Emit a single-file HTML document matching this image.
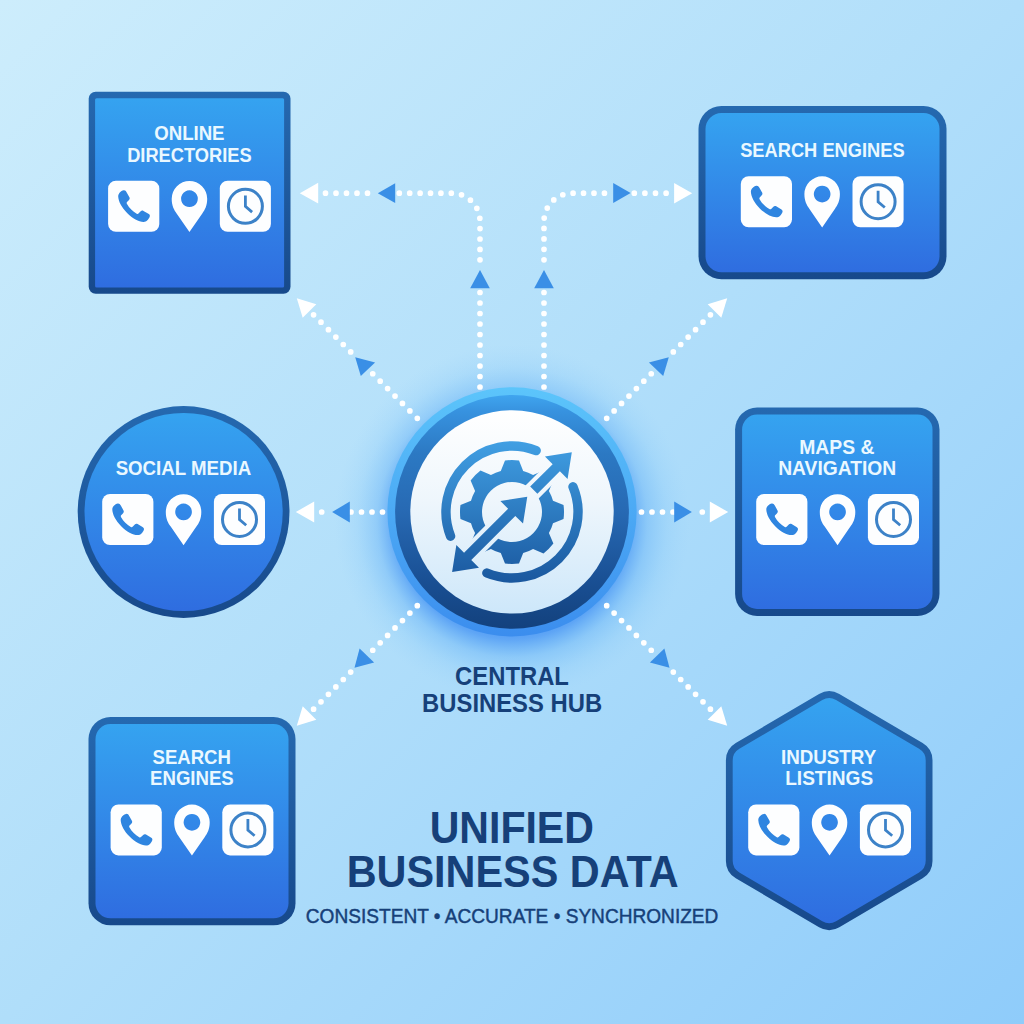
<!DOCTYPE html>
<html lang="en"><head><meta charset="utf-8"><title>Unified Business Data</title>
<style>html,body{margin:0;padding:0;background:#aedcfb;}body{width:1024px;height:1024px;overflow:hidden;font-family:"Liberation Sans", sans-serif;}svg{display:block;font-family:"Liberation Sans", sans-serif;}</style>
</head><body>
<svg width="1024" height="1024" viewBox="0 0 1024 1024">
<defs>
<linearGradient id="bg" x1="0" y1="0" x2="1" y2="1"><stop offset="0" stop-color="#cdedfc"/><stop offset="0.5" stop-color="#b0defa"/><stop offset="1" stop-color="#8fccfa"/></linearGradient>
<linearGradient id="nf" x1="0" y1="0" x2="0" y2="1"><stop offset="0" stop-color="#35a3f0"/><stop offset="1" stop-color="#2f6de0"/></linearGradient>
<linearGradient id="nb" x1="0" y1="0" x2="0" y2="1"><stop offset="0" stop-color="#2569b0"/><stop offset="1" stop-color="#17498b"/></linearGradient>
<radialGradient id="glow" cx="512" cy="522" r="178" gradientUnits="userSpaceOnUse"><stop offset="0.62" stop-color="#4a95f4" stop-opacity="0.9"/><stop offset="0.66" stop-color="#4a97f4" stop-opacity="0.78"/><stop offset="0.76" stop-color="#55a8f6" stop-opacity="0.36"/><stop offset="0.87" stop-color="#62b4f8" stop-opacity="0.13"/><stop offset="1" stop-color="#8cc8fa" stop-opacity="0"/></radialGradient>
<linearGradient id="ringL" x1="0" y1="387" x2="0" y2="637" gradientUnits="userSpaceOnUse"><stop offset="0" stop-color="#5cc5fb"/><stop offset="1" stop-color="#3b8dee"/></linearGradient>
<linearGradient id="ringD" x1="0" y1="395" x2="0" y2="629" gradientUnits="userSpaceOnUse"><stop offset="0" stop-color="#3fa5ef"/><stop offset="0.07" stop-color="#3792df"/><stop offset="0.25" stop-color="#2c79c3"/><stop offset="0.5" stop-color="#2769b3"/><stop offset="0.8" stop-color="#194f93"/><stop offset="1" stop-color="#13417d"/></linearGradient>
<linearGradient id="disc" x1="0" y1="410" x2="0" y2="614" gradientUnits="userSpaceOnUse"><stop offset="0" stop-color="#ffffff"/><stop offset="0.45" stop-color="#eef6fc"/><stop offset="1" stop-color="#cde7fa"/></linearGradient>
<linearGradient id="ico" x1="0" y1="440" x2="0" y2="585" gradientUnits="userSpaceOnUse"><stop offset="0" stop-color="#41a0e4"/><stop offset="1" stop-color="#19569d"/></linearGradient>
<g id="icons">
<rect x="0" y="0" width="51.2" height="51" rx="7.8" fill="#fdfeff"/>
<path fill="#2f85e0" d="M15.6 9.5 C17 9.3 17.8 10.2 18.6 11.6 L21.3 16.4 C21.9 17.6 21.6 18.4 20.7 19.4 L18.9 21.2 C18.4 21.8 18.5 22.4 18.9 23.2 C21.2 27.2 24.6 30.6 28.6 32.9 C29.3 33.3 29.9 33.2 30.4 32.7 L32.6 30.5 C33.4 29.7 34.3 29.6 35.4 30.1 L40.3 33 C41.6 33.8 42.1 34.7 41.6 36 C40.6 38.6 38.4 41.2 35.4 41.1 C30.6 40.9 24.4 37.6 19 32.2 C13.6 26.8 10.3 20.6 10.1 15.8 C10 12.8 12.6 10.2 15.6 9.5 Z"/>
<path fill="#fdfeff" fill-rule="evenodd" d="M81.35 51.2 L68.5 32.6 C66 29 63.6 25 63.6 17.9 A17.75 17.75 0 0 1 99.1 17.9 C99.1 25 96.7 29 94.2 32.6 Z M81.35 9.55 a8.35 8.35 0 1 0 0.001 0 Z"/>
<rect x="111.7" y="0" width="51.1" height="51" rx="7.8" fill="#fdfeff"/>
<circle cx="137.3" cy="25.5" r="17" fill="none" stroke="#3c82c8" stroke-width="3"/>
<path d="M137.3 14.6 V25.6 L144 31.3" fill="none" stroke="#3c82c8" stroke-width="2.8" stroke-linecap="butt" stroke-linejoin="miter"/>
</g>
<mask id="gm" maskUnits="userSpaceOnUse" x="400" y="400" width="224" height="224"><rect x="400" y="400" width="224" height="224" fill="#fff"/><polygon points="452.11,571.89 456.35,545.02 464.06,552.73 508.11,508.68 500.4,500.97 527.27,496.73 523.03,523.6 515.32,515.89 471.27,559.94 478.98,567.65" fill="#000" stroke="#000" stroke-width="8.2" stroke-linejoin="miter"/><polygon points="530.17,486.61 552.66,464.13 544.95,456.42 571.82,452.18 567.58,479.05 559.87,471.34 537.39,493.83" fill="#000" stroke="#000" stroke-width="8.2" stroke-linejoin="miter"/></mask>
</defs>
<rect width="1024" height="1024" fill="url(#bg)"/>
<circle cx="512" cy="522" r="178" fill="url(#glow)"/>
<g fill="none" stroke="#ffffff" stroke-width="5.7" stroke-linecap="round" stroke-dasharray="0 10.5">
<path d="M480 387 V292"/>
<path stroke-dasharray="0 10.4" d="M480 259.8 V221 A28 28 0 0 0 452 193.2 H399"/>
<path d="M367.5 193.2 H325"/>
<path d="M382.5 512 H350.5"/>
<path d="M321.7 512 h0.01"/>
<path d="M417.3 418.3 L372.4 373.4"/>
<path d="M350.7 351.9 L313.2 314.4"/>
<path d="M417.3 605.7 L372.4 650.6"/>
<path d="M350.7 672.1 L313.2 709.6"/>
<path d="M544 387 V292"/>
<path stroke-dasharray="0 10.45" d="M544 259.8 V221 A28 28 0 0 1 572 193.2 H605"/>
<path stroke-dasharray="0 10.6" d="M634.3 193.2 H666.5"/>
<path d="M641.5 512 H673.5"/>
<path d="M702.3 512 h0.01"/>
<path d="M606.7 418.3 L651.6 373.4"/>
<path d="M673.3 351.9 L710.8 314.4"/>
<path d="M606.7 605.7 L651.6 650.6"/>
<path d="M673.3 672.1 L710.8 709.6"/>
</g>
<g fill="#ffffff">
<polygon points="299.8,193.2 318.2,182.8 318.2,203.6"/>
<polygon points="692.2,193.2 674.1,183 674.1,203.5"/>
<polygon points="295.8,512 314.2,501.6 314.2,522.4"/>
<polygon points="728.2,512 709.8,501.6 709.8,522.4"/>
<polygon points="296.8,298.2 316.3,304.3 302.7,317.7"/>
<polygon points="727.2,298.2 707.7,304.3 721.3,317.7"/>
<polygon points="296.8,725.8 316.3,719.7 302.7,706.3"/>
<polygon points="727.2,725.8 707.7,719.7 721.3,706.3"/>
</g>
<g fill="#3a8fe6">
<polygon points="377.8,193.2 395.2,183.3 395.2,203"/>
<polygon points="630.6,193 613.2,183 613.2,202.9"/>
<polygon points="480,270.1 470.2,288.3 489.8,288.3"/>
<polygon points="544,270.1 534.2,288.3 553.8,288.3"/>
<polygon points="332.1,512 349.8,501.6 349.8,522.4"/>
<polygon points="691.9,512 674.2,501.6 674.2,522.4"/>
<polygon points="355.2,357.2 375.1,362.4 360.8,376.1"/>
<polygon points="668.8,357.2 648.9,362.4 663.2,376.1"/>
<polygon points="354.5,667.8 374.1,662.4 359.6,648.6"/>
<polygon points="669.5,667.8 649.9,662.4 664.4,648.6"/>
</g>
<rect x="88.7" y="91.8" width="201.8" height="202" rx="7" fill="url(#nb)"/>
<rect x="95.1" y="98.2" width="189" height="189.2" rx="1.5" fill="url(#nf)"/>
<text x="189.4" y="139.7" font-size="19.4" font-weight="bold" fill="#eaf8ff" text-anchor="middle" textLength="70.3" lengthAdjust="spacingAndGlyphs">ONLINE</text>
<text x="189.4" y="161.7" font-size="19.4" font-weight="bold" fill="#eaf8ff" text-anchor="middle" textLength="124.5" lengthAdjust="spacingAndGlyphs">DIRECTORIES</text>
<use href="#icons" x="108.1" y="180.8"/>
<rect x="698.5" y="106.1" width="248" height="173.2" rx="23" fill="url(#nb)"/>
<rect x="705.5" y="113.1" width="234" height="159.2" rx="16" fill="url(#nf)"/>
<text x="822.4" y="156.9" font-size="19.4" font-weight="bold" fill="#eaf8ff" text-anchor="middle" textLength="164.4" lengthAdjust="spacingAndGlyphs">SEARCH ENGINES</text>
<use href="#icons" x="740.8" y="176.2"/>
<rect x="735.1" y="407.6" width="204.4" height="208.4" rx="22" fill="url(#nb)"/>
<rect x="742.1" y="414.6" width="190.4" height="194.4" rx="15" fill="url(#nf)"/>
<text x="836.8" y="453.5" font-size="19.4" font-weight="bold" fill="#eaf8ff" text-anchor="middle" textLength="75.2" lengthAdjust="spacingAndGlyphs">MAPS &amp;</text>
<text x="837.2" y="475.1" font-size="19.4" font-weight="bold" fill="#eaf8ff" text-anchor="middle" textLength="118" lengthAdjust="spacingAndGlyphs">NAVIGATION</text>
<use href="#icons" x="756.2" y="494"/>
<circle cx="183.6" cy="512" r="105.9" fill="url(#nb)"/>
<circle cx="183.6" cy="512" r="99.1" fill="url(#nf)"/>
<text x="183.4" y="475.1" font-size="19.4" font-weight="bold" fill="#eaf8ff" text-anchor="middle" textLength="135.5" lengthAdjust="spacingAndGlyphs">SOCIAL MEDIA</text>
<use href="#icons" x="102.2" y="494"/>
<rect x="88.5" y="717.1" width="207" height="208.2" rx="22" fill="url(#nb)"/>
<rect x="95.5" y="724.1" width="193" height="194.2" rx="15" fill="url(#nf)"/>
<text x="191.7" y="763.5" font-size="19.4" font-weight="bold" fill="#eaf8ff" text-anchor="middle" textLength="78.4" lengthAdjust="spacingAndGlyphs">SEARCH</text>
<text x="191.9" y="785.1" font-size="19.4" font-weight="bold" fill="#eaf8ff" text-anchor="middle" textLength="83.6" lengthAdjust="spacingAndGlyphs">ENGINES</text>
<use href="#icons" x="110.6" y="804.4"/>
<path d="M819.06 693.97A20 20 0 0 1 839.34 693.97L922.64 743A20 20 0 0 1 932.5 760.24L932.5 860.96A20 20 0 0 1 922.64 878.2L839.34 927.23A20 20 0 0 1 819.06 927.23L735.76 878.2A20 20 0 0 1 725.9 860.96L725.9 760.24A20 20 0 0 1 735.76 743Z" fill="url(#nb)"/>
<path d="M822.35 699.93A13.5 13.5 0 0 1 836.05 699.93L919.05 748.78A13.5 13.5 0 0 1 925.7 760.42L925.7 860.78A13.5 13.5 0 0 1 919.05 872.42L836.05 921.27A13.5 13.5 0 0 1 822.35 921.27L739.35 872.42A13.5 13.5 0 0 1 732.7 860.78L732.7 760.42A13.5 13.5 0 0 1 739.35 748.78Z" fill="url(#nf)"/>
<text x="828.6" y="763.9" font-size="19.4" font-weight="bold" fill="#eaf8ff" text-anchor="middle" textLength="95.2" lengthAdjust="spacingAndGlyphs">INDUSTRY</text>
<text x="829.2" y="785.1" font-size="19.4" font-weight="bold" fill="#eaf8ff" text-anchor="middle" textLength="88" lengthAdjust="spacingAndGlyphs">LISTINGS</text>
<use href="#icons" x="748.2" y="804.4"/>
<circle cx="512" cy="511.9" r="124.6" fill="url(#ringL)"/>
<circle cx="512" cy="511.9" r="116.9" fill="url(#ringD)"/>
<circle cx="512" cy="511.9" r="101.7" fill="url(#disc)"/>
<g fill="url(#ico)">
<path mask="url(#gm)" fill-rule="evenodd" d="M500.8 471L505 460.47A52 52 0 0 1 519 460.47L523.2 471A42.5 42.5 0 0 1 533.07 475.09L543.49 470.62A52 52 0 0 1 553.38 480.51L548.91 490.93A42.5 42.5 0 0 1 553 500.8L563.53 505A52 52 0 0 1 563.53 519L553 523.2A42.5 42.5 0 0 1 548.91 533.07L553.38 543.49A52 52 0 0 1 543.49 553.38L533.07 548.91A42.5 42.5 0 0 1 523.2 553L519 563.53A52 52 0 0 1 505 563.53L500.8 553A42.5 42.5 0 0 1 490.93 548.91L480.51 553.38A52 52 0 0 1 470.62 543.49L475.09 533.07A42.5 42.5 0 0 1 471 523.2L460.47 519A52 52 0 0 1 460.47 505L471 500.8A42.5 42.5 0 0 1 475.09 490.93L470.62 480.51A52 52 0 0 1 480.51 470.62L490.93 475.09A42.5 42.5 0 0 1 500.8 471Z M512 482 a30 30 0 1 0 0.001 0 Z"/>
<polygon points="452.11,571.89 456.35,545.02 464.06,552.73 508.11,508.68 500.4,500.97 527.27,496.73 523.03,523.6 515.32,515.89 471.27,559.94 478.98,567.65"/>
<polygon points="530.17,486.61 552.66,464.13 544.95,456.42 571.82,452.18 567.58,479.05 559.87,471.34 537.39,493.83"/>
</g>
<g fill="none" stroke="url(#ico)" stroke-width="9.4" stroke-linecap="round">
<path d="M450.59 536.19 A66 66 0 0 1 536.19 450.59"/>
<path d="M572.98 486.74 A66 66 0 0 1 486.85 573.02"/>
</g>
<text x="512" y="684.9" font-size="25.2" font-weight="bold" fill="#164079" text-anchor="middle" textLength="113.8" lengthAdjust="spacingAndGlyphs">CENTRAL</text>
<text x="512.1" y="711.9" font-size="25.2" font-weight="bold" fill="#164079" text-anchor="middle" textLength="180" lengthAdjust="spacingAndGlyphs">BUSINESS HUB</text>
<text x="511.8" y="843.1" font-size="43.7" font-weight="bold" fill="#164079" text-anchor="middle" textLength="164.2" lengthAdjust="spacingAndGlyphs">UNIFIED</text>
<text x="512.7" y="886.9" font-size="43.7" font-weight="bold" fill="#164079" text-anchor="middle" textLength="332" lengthAdjust="spacingAndGlyphs">BUSINESS DATA</text>
<text x="512.1" y="922.9" font-size="20.2" font-weight="normal" fill="#164079" text-anchor="middle" textLength="412.6" lengthAdjust="spacingAndGlyphs" stroke="#164079" stroke-width="0.45">CONSISTENT • ACCURATE • SYNCHRONIZED</text>
</svg>
</body></html>
